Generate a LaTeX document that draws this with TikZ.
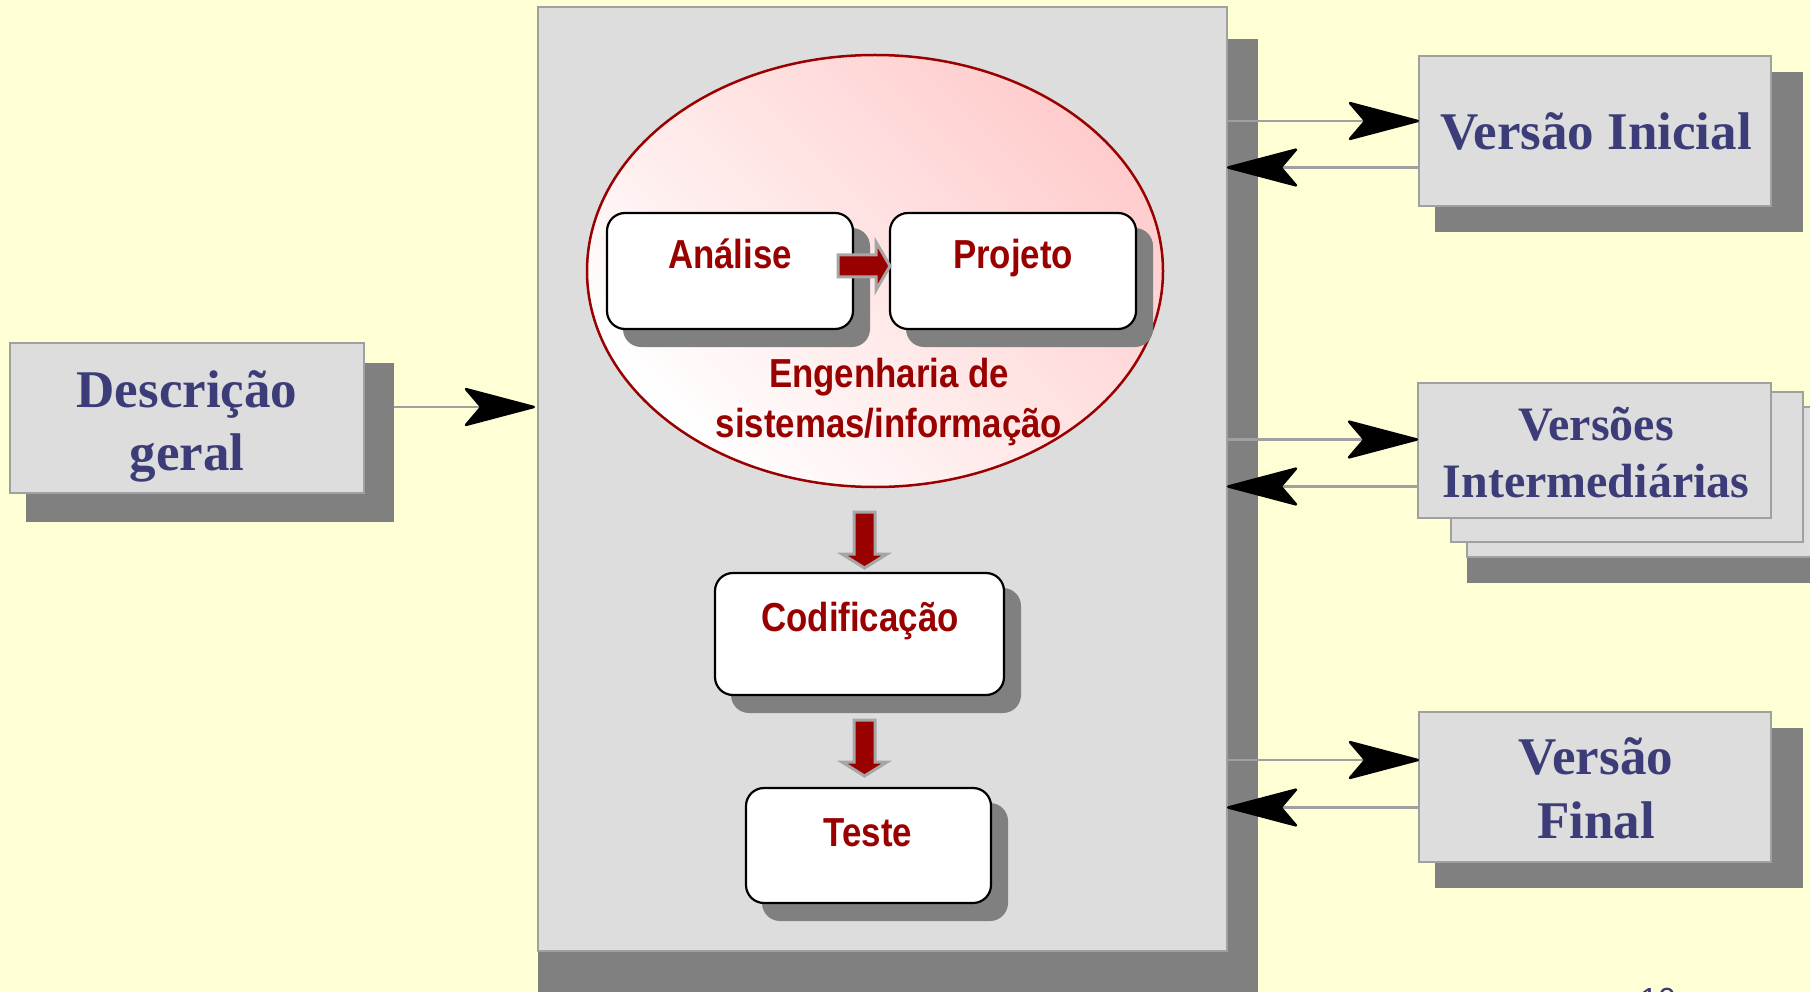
\documentclass[tikz,border=0pt]{standalone}
\usepackage{fontspec}
\setmainfont{Liberation Serif}
\newfontfamily\narrowsans{Liberation Sans}[FakeStretch=0.86]
\newfontfamily\plainsans{Liberation Sans}
\usetikzlibrary{arrows.meta,shapes.geometric,calc}
\definecolor{bgyellow}{RGB}{255,255,213}
\definecolor{panelgray}{RGB}{221,221,221}
\definecolor{shadowgray}{RGB}{128,128,128}
\definecolor{edgegray}{RGB}{160,160,160}
\definecolor{navytext}{RGB}{60,60,120}
\definecolor{darkred}{RGB}{153,0,0}
\definecolor{pinkfill}{RGB}{255,204,204}
\definecolor{arrowedge}{RGB}{166,166,166}
\begin{document}
\begin{tikzpicture}[x=1pt,y=1pt,
  panel/.style={draw=edgegray, line width=2.5pt, fill=panelgray, inner sep=0pt, outer sep=0pt},
  shadowbox/.style={fill=shadowgray, draw=none, inner sep=0pt, outer sep=0pt},
  shadowround/.style={fill=shadowgray, draw=none, inner sep=0pt, outer sep=0pt, rounded corners=18pt},
  roundbox/.style={draw=black, line width=2.2pt, fill=white, rounded corners=18pt, inner sep=0pt, outer sep=0pt},
  serif/.style={text=navytext, font=\bfseries\fontsize{53}{63}\selectfont, align=center, inner sep=0pt},
  serifsmall/.style={text=navytext, font=\bfseries\fontsize{48}{57}\selectfont, align=center, inner sep=0pt},
  redlabel/.style={text=darkred, font=\narrowsans\bfseries\fontsize{40.5}{50}\selectfont, align=center, inner sep=0pt},
  conn/.style={draw=edgegray, line width=2.5pt, -{Stealth[length=76pt,width=40pt,inset=17pt,round,black]}},
  redarrow/.style={fill=darkred, draw=arrowedge, line width=3pt, line join=miter}
]
\useasboundingbox[fill=bgyellow] (0,0) rectangle (1810,-992);

% main panel
\node[shadowbox, minimum width=720, minimum height=961] (main-sh) at (898,-519.5) {};
\node[panel, minimum width=689, minimum height=944] (main) at (882.5,-479) {};

% ellipse
\node[ellipse, draw=darkred, line width=2.5pt, left color=white, right color=pinkfill, shading angle=135,
      minimum width=576, minimum height=432, inner sep=0pt] (eng) at (875,-271) {};

% rounded boxes
\node[shadowround, minimum width=247, minimum height=119] (ana-sh) at (746.5,-287.5) {};
\node[shadowround, minimum width=247, minimum height=119] (proj-sh) at (1029.5,-287.5) {};
\node[shadowround, minimum width=290, minimum height=125] (cod-sh) at (876,-650.5) {};
\node[shadowround, minimum width=246, minimum height=118] (test-sh) at (885,-862) {};
\node[roundbox, minimum width=246, minimum height=116] (ana) at (730,-271) {};
\node[roundbox, minimum width=246, minimum height=116] (proj) at (1013,-271) {};
\node[roundbox, minimum width=289, minimum height=122] (cod) at (859.5,-634) {};
\node[roundbox, minimum width=245, minimum height=115] (test) at (868.5,-845.5) {};

\node[redlabel, anchor=base] (t-ana) at (730,-269) {Análise};
\node[redlabel, anchor=base] (t-proj) at (1013,-269) {Projeto};
\node[redlabel, anchor=base] (t-eng1) at (889,-387) {Engenharia de};
\node[redlabel, anchor=base] (t-eng2) at (889,-437) {sistemas/informação};
\node[redlabel, anchor=base] (t-cod) at (860,-631) {Codificação};
\node[redlabel, anchor=base] (t-test) at (868,-846) {Teste};

% red block arrows
\draw[redarrow] ([yshift=5pt]proj.west) -- ++(-14,24) -- ++(0,-13) -- ++(-38,0) -- ++(0,-22) -- ++(38,0) -- ++(0,-13) -- cycle;
\draw[redarrow] ([xshift=5pt,yshift=5pt]cod.north) -- ++(-22.5,14) -- ++(12,0) -- ++(0,42) -- ++(21,0) -- ++(0,-42) -- ++(12,0) -- cycle;
\draw[redarrow] ([xshift=-4pt,yshift=12pt]test.north) -- ++(-22.5,14) -- ++(12,0) -- ++(0,42) -- ++(21,0) -- ++(0,-42) -- ++(12,0) -- cycle;

% Descricao
\node[shadowbox, minimum width=368, minimum height=159] (desc-sh) at (210,-442.5) {};
\node[panel, minimum width=354, minimum height=150] (desc) at (187,-418) {};
\node[serif, anchor=base] (t-desc1) at (187,-407) {Descrição};
\node[serif, anchor=base] (t-desc2) at (187,-470) {geral};

% Versao Inicial
\node[shadowbox, minimum width=368, minimum height=160] (vi-sh) at (1619,-152) {};
\node[panel, minimum width=352, minimum height=150] (vi) at (1595,-131) {};
\node[serif, anchor=base] (t-vi) at (1596,-150) {Versão Inicial};

% Versoes Intermediarias (stack)
\node[shadowbox, minimum width=363, minimum height=26] (vm-sh) at (1648.5,-570) {};
\node[panel, minimum width=363, minimum height=150] (vm3) at (1648.5,-482) {};
\node[panel, minimum width=352, minimum height=150] (vm2) at (1627,-467) {};
\node[panel, minimum width=353, minimum height=135] (vm) at (1594.5,-450.5) {};
\node[serifsmall, anchor=base] (t-vm1) at (1596,-440) {Versões};
\node[serifsmall, anchor=base] (t-vm2) at (1596,-497) {Intermediárias};

% Versao Final
\node[shadowbox, minimum width=368, minimum height=160] (vf-sh) at (1619,-808) {};
\node[panel, minimum width=352, minimum height=150] (vf) at (1595,-787) {};
\node[serif, anchor=base] (t-vf1) at (1596,-774) {Versão};
\node[serif, anchor=base] (t-vf2) at (1596,-838) {Final};

% connectors
\coordinate (d-out) at ([yshift=11pt]desc-sh.east |- desc.east);
\draw[conn] (d-out) -- ([xshift=-3pt]d-out -| main.west);

\coordinate (vi-in) at ([yshift=10pt]vi.west);
\coordinate (vi-out) at ([yshift=-36.5pt]vi.west);
\draw[conn] (vi-in -| main.east) -- (vi-in);
\draw[conn] (vi-out) -- (vi-out -| main.east);

\coordinate (vm-in) at ([yshift=11pt]vm.west);
\coordinate (vm-out) at ([yshift=-36pt]vm.west);
\draw[conn] (vm-in -| main.east) -- (vm-in);
\draw[conn] (vm-out) -- (vm-out -| main.east);

\coordinate (vf-in) at ([yshift=27pt]vf.west);
\coordinate (vf-out) at ([yshift=-20.5pt]vf.west);
\draw[conn] (vf-in -| main.east) -- (vf-in);
\draw[conn] (vf-out) -- (vf-out -| main.east);

% page number (cut off at the bottom edge, as in the original slide)
\node[text=navytext, font=\plainsans\fontsize{32}{32}\selectfont, anchor=base, inner sep=0pt] (pnum) at (1658,-1010) {10};
\end{tikzpicture}
\end{document}
